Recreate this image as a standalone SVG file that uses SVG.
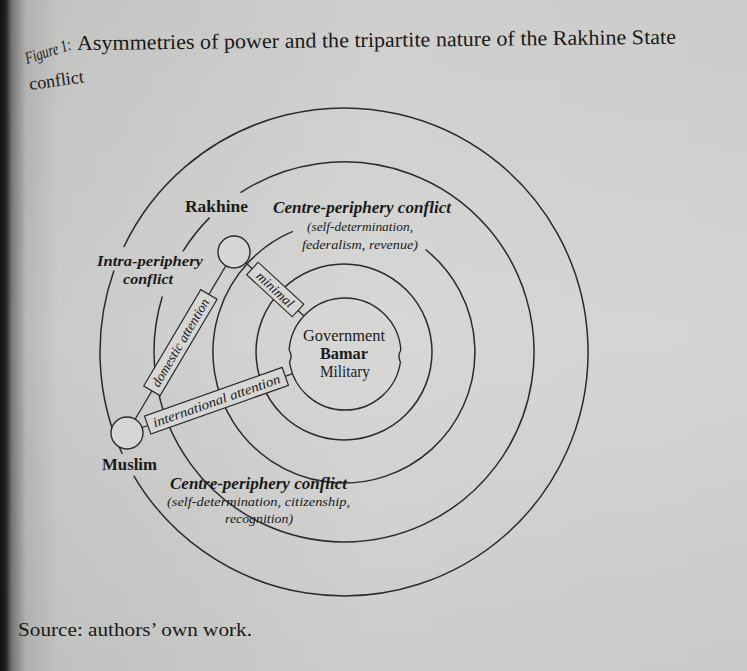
<svg xmlns="http://www.w3.org/2000/svg" width="747" height="671" viewBox="0 0 747 671">
<defs>
<linearGradient id="pageGrad" x1="0" y1="0" x2="1" y2="0">
<stop offset="0" stop-color="#111"/>
<stop offset="0.008" stop-color="#262626"/>
<stop offset="0.016" stop-color="#7a7a79"/>
<stop offset="0.035" stop-color="#b8b8b6"/>
<stop offset="0.08" stop-color="#cbcbc9"/>
<stop offset="0.5" stop-color="#d7d7d5"/>
<stop offset="1" stop-color="#d4d4d2"/>
</linearGradient>
<linearGradient id="shade" x1="0" y1="0" x2="0" y2="1">
<stop offset="0" stop-color="#000" stop-opacity="0.04"/>
<stop offset="0.5" stop-color="#000" stop-opacity="0"/>
<stop offset="1" stop-color="#000" stop-opacity="0.05"/>
</linearGradient>
</defs>
<style>
.ring{fill:none;stroke:#2a2a2a;stroke-width:1.5}
.conn{fill:none;stroke:#2a2a2a;stroke-width:1.3}
.box{fill:#d6d6d4;stroke:#2a2a2a;stroke-width:1.2}
.node{fill:#d6d6d4;stroke:#2a2a2a;stroke-width:1.4}
text{font-family:"Liberation Serif","DejaVu Serif",serif;fill:#1a1a1a}
.b{font-weight:bold}
.i{font-style:italic}
.bi{font-weight:bold;font-style:italic}
.lbl{font-size:16px}
.sub{font-size:13.5px;font-style:italic}
.edge{font-size:13.5px;font-style:italic}
</style>
<rect x="0" y="0" width="747" height="671" fill="url(#pageGrad)"/>
<rect x="0" y="0" width="747" height="671" fill="url(#shade)"/>

<!-- Caption -->
<g id="caption">
<text x="27" y="64" transform="rotate(-18 27 64)" class="i" font-size="17" textLength="48" lengthAdjust="spacingAndGlyphs">Figure 1:</text>
<text x="77" y="50" font-size="21" textLength="599" lengthAdjust="spacingAndGlyphs" transform="rotate(-0.6 77 50)">Asymmetries of power and the tripartite nature of the Rakhine State</text>
<text x="30" y="90" font-size="18" transform="rotate(-8 30 90)">conflict</text>
</g>

<!-- Concentric rings -->
<g id="rings">
<path id="ring-outer" class="ring" d="M123.8,247.0 A244,244 0 1 1 133.8,475.8 M122.3,454.0 A244,244 0 0 1 114.0,270.6"/>
<path id="ring-4" class="ring" d="M240.5,192.6 A190,190 0 1 1 162.3,296.5 M182.9,251.3 A190,190 0 0 1 209.6,217.6"/>
<path id="ring-3" class="ring" d="M425.5,249.5 A131,131 0 1 1 292.8,231.4"/>
<circle id="ring-2" class="ring" cx="344" cy="352" r="88"/>
</g>

<!-- Connectors -->
<g id="connectors">
<line class="conn" x1="127" y1="433" x2="234" y2="252"/>
<line class="conn" x1="234" y1="252" x2="304" y2="316"/>
<line class="conn" x1="127" y1="433" x2="292.7" y2="373.7"/>
<g id="edge-domestic" transform="translate(180.4,342.6) rotate(-59.4)">
<rect class="box" x="-56" y="-9.5" width="112" height="19"/>
<text class="edge" x="0" y="4.5" text-anchor="middle" textLength="100" lengthAdjust="spacingAndGlyphs">domestic attention</text>
</g>
<g id="edge-minimal" transform="translate(275.2,289.5) rotate(42.6)">
<rect class="box" x="-31" y="-8.5" width="62" height="17"/>
<text class="edge" x="0" y="4.5" text-anchor="middle" textLength="46" lengthAdjust="spacingAndGlyphs">minimal</text>
</g>
<g id="edge-international" transform="translate(216.5,400.7) rotate(-19.5)">
<rect class="box" x="-73" y="-9.5" width="146" height="19"/>
<text class="edge" x="0" y="4.5" text-anchor="middle" textLength="134" lengthAdjust="spacingAndGlyphs">international attention</text>
</g>
</g>

<!-- Nodes -->
<g id="node-centre">
<path class="node" d="M289.14,350 A56,56 0 0 1 400.86,350 Q397.2,356 400.43,362 A56,56 0 0 1 289.57,362 Q292.8,356 289.14,350 Z"/>
<text x="344" y="341" class="lbl" text-anchor="middle" textLength="82" lengthAdjust="spacingAndGlyphs">Government</text>
<text x="344" y="359" class="lbl b" text-anchor="middle" textLength="48" lengthAdjust="spacingAndGlyphs">Bamar</text>
<text x="345" y="377" class="lbl" text-anchor="middle" textLength="50" lengthAdjust="spacingAndGlyphs">Military</text>
</g>
<g id="node-rakhine">
<circle class="node" cx="234" cy="252" r="16"/>
<text x="185" y="212" class="b" font-size="16.5" textLength="63" lengthAdjust="spacingAndGlyphs">Rakhine</text>
</g>
<g id="node-muslim">
<circle class="node" cx="127" cy="433" r="16"/>
<text x="102" y="470" class="b" font-size="16.5" textLength="55" lengthAdjust="spacingAndGlyphs">Muslim</text>
</g>

<!-- Region labels -->
<g id="label-centre-periphery-rakhine">
<text x="273" y="213" class="bi" font-size="16" textLength="178" lengthAdjust="spacingAndGlyphs">Centre-periphery conflict</text>
<text x="307" y="231" class="sub" textLength="106" lengthAdjust="spacingAndGlyphs">(self-determination,</text>
<text x="302" y="249" class="sub" textLength="116" lengthAdjust="spacingAndGlyphs">federalism, revenue)</text>
</g>
<g id="label-intra-periphery">
<text x="97" y="266" class="bi" font-size="15.5" textLength="106" lengthAdjust="spacingAndGlyphs">Intra-periphery</text>
<text x="123" y="284" class="bi" font-size="15.5" textLength="50" lengthAdjust="spacingAndGlyphs">conflict</text>
</g>
<g id="label-centre-periphery-muslim">
<text x="170" y="489" class="bi" font-size="16" textLength="177" lengthAdjust="spacingAndGlyphs">Centre-periphery conflict</text>
<text x="167" y="506" class="sub" textLength="183" lengthAdjust="spacingAndGlyphs">(self-determination, citizenship,</text>
<text x="225" y="523" class="sub" textLength="68" lengthAdjust="spacingAndGlyphs">recognition)</text>
</g>

<g id="source">
<text x="18" y="636" font-size="19" textLength="234" lengthAdjust="spacingAndGlyphs">Source: authors’ own work.</text>
</g>
</svg>
